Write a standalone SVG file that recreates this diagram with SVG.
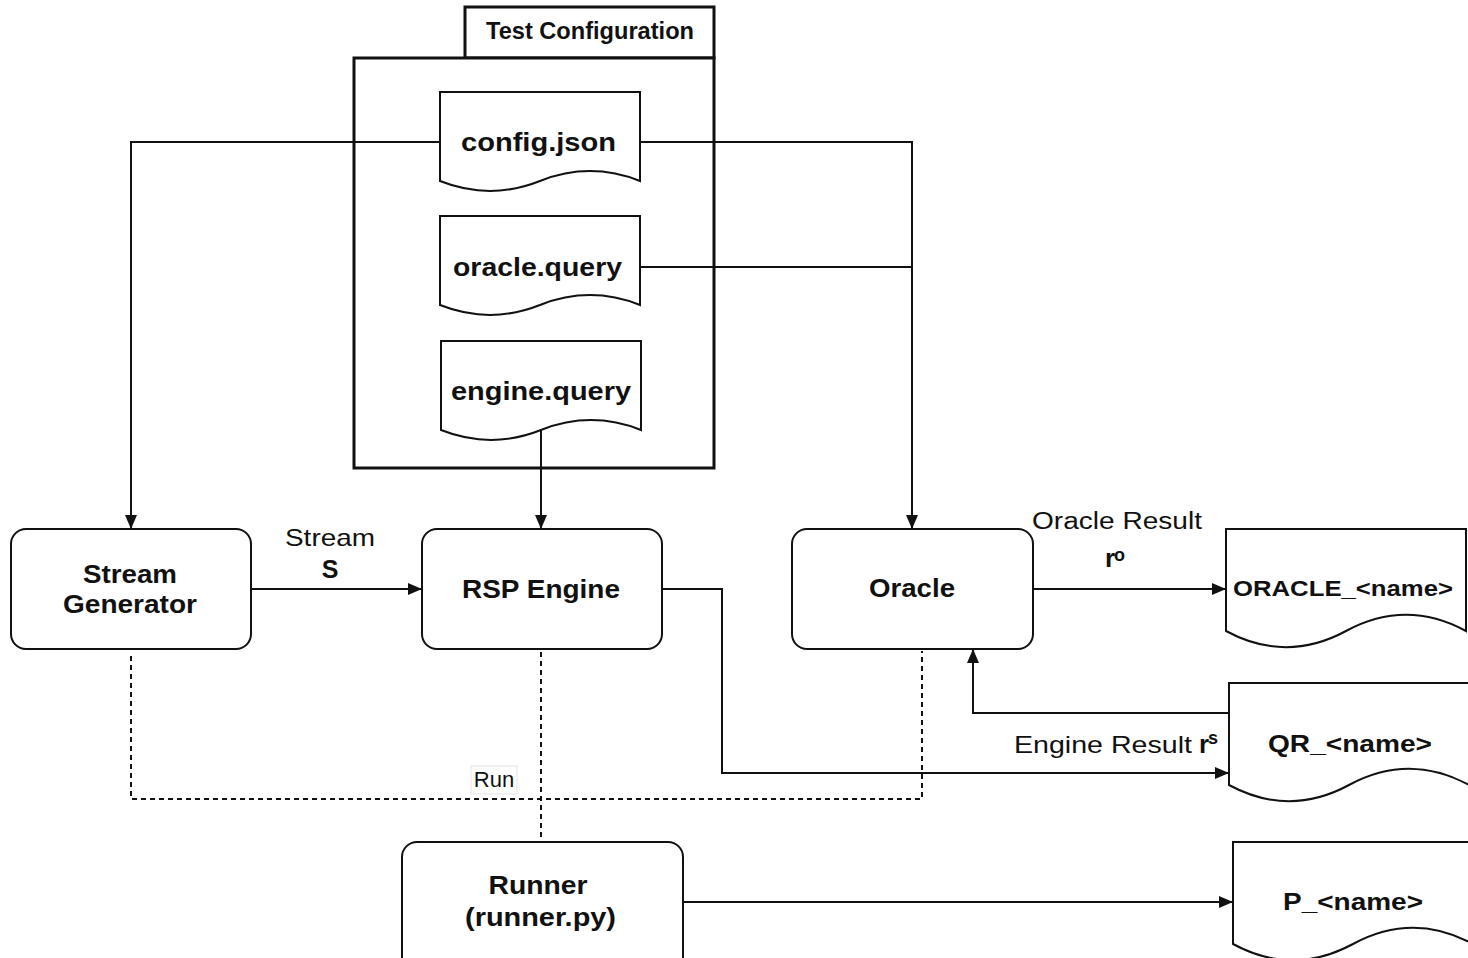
<svg xmlns="http://www.w3.org/2000/svg" width="1468" height="958" viewBox="0 0 1468 958">
  <style>
    .box { fill: #ffffff; stroke: #111111; stroke-width: 2; }
    .frame { fill: #ffffff; stroke: #111111; stroke-width: 3; }
    .edge { fill: none; stroke: #111111; stroke-width: 2; }
    .dash { fill: none; stroke: #111111; stroke-width: 2; stroke-dasharray: 5 4; }
    .b { font-family: "Liberation Sans", Arial, Helvetica, sans-serif; font-weight: bold; fill: #111111; }
    .r { font-family: "Liberation Sans", Arial, Helvetica, sans-serif; fill: #111111; }
    .m { text-anchor: middle; }
  </style>
  <defs>
    <marker id="arrow" viewBox="0 0 14 14" markerWidth="14" markerHeight="14" refX="14" refY="7" orient="auto" markerUnits="userSpaceOnUse">
      <path d="M0,1 L14,7 L0,13 Z" fill="#111111"/>
    </marker>
  </defs>

  <rect width="1468" height="958" fill="#ffffff"/>

  <!-- Test Configuration package -->
  <g id="test-configuration">
    <rect class="frame" x="465" y="7" width="249" height="51"/>
    <rect class="frame" x="354" y="58" width="360" height="410"/>
    <text class="b m" x="590" y="39" font-size="23" textLength="208" lengthAdjust="spacingAndGlyphs">Test Configuration</text>
  </g>

  <!-- Connectors -->
  <g id="connectors">
    <path class="edge" d="M440,142 H131 V529" marker-end="url(#arrow)"/>
    <path class="edge" d="M640,142 H912 V529" marker-end="url(#arrow)"/>
    <path class="edge" d="M640,267 H912"/>
    <path class="edge" d="M541,430 V529" marker-end="url(#arrow)"/>
    <path class="edge" d="M251,589 H422" marker-end="url(#arrow)"/>
    <path class="edge" d="M662,589 H722 V773 H1229" marker-end="url(#arrow)"/>
    <path class="edge" d="M1033,589 H1226" marker-end="url(#arrow)"/>
    <path class="edge" d="M1229,713 H973 V649" marker-end="url(#arrow)"/>
    <path class="edge" d="M683,902 H1233" marker-end="url(#arrow)"/>
    <path class="dash" d="M131,656 V799 H922 V651"/>
    <path class="dash" d="M541,652 V842"/>

    <text class="r m" x="330" y="546" font-size="24" textLength="90" lengthAdjust="spacingAndGlyphs">Stream</text>
    <text class="b m" x="330" y="578" font-size="25">S</text>

    <text class="r" x="1032" y="529" font-size="23" textLength="170" lengthAdjust="spacingAndGlyphs">Oracle Result</text>
    <text class="b" x="1105" y="567" font-size="26">r</text>
    <text class="b" x="1114" y="561" font-size="18">o</text>

    <text class="r" x="1014" y="753" font-size="24" textLength="178" lengthAdjust="spacingAndGlyphs">Engine Result</text>
    <text class="b" x="1199" y="753" font-size="26">r</text>
    <text class="b" x="1208" y="744" font-size="18">s</text>

    <rect x="471" y="766" width="46" height="28" fill="#ffffff" stroke="#e4e4e4" stroke-width="1"/>
    <text class="r m" x="494" y="787" font-size="22">Run</text>
  </g>

  <!-- Configuration documents -->
  <g id="config-json">
    <path class="box" d="M440,92 H640 V181 Q590,161.2 540,181 Q490,200.8 440,181 Z"/>
    <text class="b m" x="538.5" y="151" font-size="26" textLength="155" lengthAdjust="spacingAndGlyphs">config.json</text>
  </g>
  <g id="oracle-query">
    <path class="box" d="M440,216 H640 V305 Q590,285.2 540,305 Q490,324.8 440,305 Z"/>
    <text class="b m" x="537.5" y="276" font-size="26" textLength="169" lengthAdjust="spacingAndGlyphs">oracle.query</text>
  </g>
  <g id="engine-query">
    <path class="box" d="M441,341 H641 V430 Q591,410.2 541,430 Q491,449.8 441,430 Z"/>
    <text class="b m" x="541" y="400" font-size="26" textLength="180" lengthAdjust="spacingAndGlyphs">engine.query</text>
  </g>

  <!-- Processes -->
  <g id="stream-generator">
    <rect class="box" x="11" y="529" width="240" height="120" rx="15" ry="15"/>
    <text class="b m" x="130" y="583" font-size="26" textLength="94" lengthAdjust="spacingAndGlyphs">Stream</text>
    <text class="b m" x="130" y="613" font-size="26" textLength="134" lengthAdjust="spacingAndGlyphs">Generator</text>
  </g>
  <g id="rsp-engine">
    <rect class="box" x="422" y="529" width="240" height="120" rx="15" ry="15"/>
    <text class="b m" x="541" y="598" font-size="26" textLength="158" lengthAdjust="spacingAndGlyphs">RSP Engine</text>
  </g>
  <g id="oracle">
    <rect class="box" x="792" y="529" width="241" height="120" rx="15" ry="15"/>
    <text class="b m" x="912" y="597" font-size="26" textLength="86" lengthAdjust="spacingAndGlyphs">Oracle</text>
  </g>
  <g id="runner">
    <rect class="box" x="402" y="842" width="281" height="140" rx="15" ry="15"/>
    <text class="b m" x="538" y="894" font-size="26" textLength="99" lengthAdjust="spacingAndGlyphs">Runner</text>
    <text class="b m" x="540.5" y="926" font-size="26" textLength="151" lengthAdjust="spacingAndGlyphs">(runner.py)</text>
  </g>

  <!-- Result documents -->
  <g id="oracle-result">
    <path class="box" d="M1226,529 H1466 V631 Q1406,598.6 1346,631 Q1286,663.4 1226,631 Z"/>
    <text class="b m" x="1343" y="596" font-size="22" textLength="220" lengthAdjust="spacingAndGlyphs">ORACLE_&lt;name&gt;</text>
  </g>
  <g id="qr-result">
    <path class="box" d="M1229,683 H1469 V785 Q1409,752.6 1349,785 Q1289,817.4 1229,785 Z"/>
    <text class="b m" x="1350" y="752" font-size="24" textLength="164" lengthAdjust="spacingAndGlyphs">QR_&lt;name&gt;</text>
  </g>
  <g id="p-result">
    <path class="box" d="M1233,842 H1473 V944 Q1413,911.6 1353,944 Q1293,976.4 1233,944 Z"/>
    <text class="b m" x="1353" y="910" font-size="24" textLength="140" lengthAdjust="spacingAndGlyphs">P_&lt;name&gt;</text>
  </g>
</svg>
